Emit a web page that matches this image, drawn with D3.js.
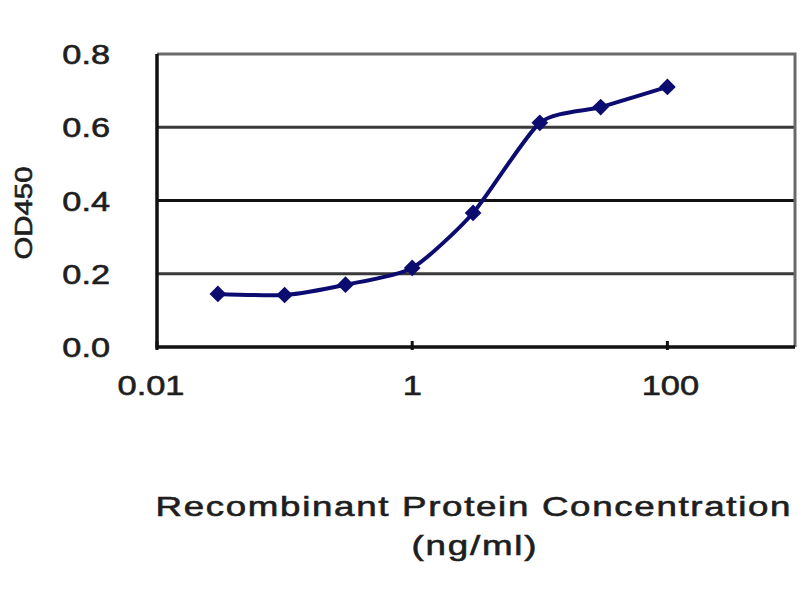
<!DOCTYPE html>
<html>
<head>
<meta charset="utf-8">
<script src="https://cdn.jsdelivr.net/npm/d3@7"></script>
<style>
  body { margin: 0; background: #ffffff; }
  text { font-family: "Liberation Sans", Arial, sans-serif; fill: #1e1e1e; stroke: #1e1e1e; stroke-width: 0.6px; }
</style>
</head>
<body>
<div id="chart"></div>
<script>
const concentrations = [0.03, 0.1, 0.3, 1, 3, 10, 30, 100];
const od450 = [0.145, 0.142, 0.170, 0.216, 0.366, 0.612, 0.655, 0.710];
const xTickValues = [0.01, 1, 100];
const xTickLabels = ["0.01", "1", "100"];
const yTickValues = [0, 0.2, 0.4, 0.6, 0.8];
const yTickLabels = ["0.0", "0.2", "0.4", "0.6", "0.8"];

const svg = d3.select("#chart")
    .append("svg")
    .attr("width", 800)
    .attr("height", 600);

const x = d3.scaleLog()
    .domain([0.01, 1000])
    .range([157, 795]);

const y = d3.scaleLinear()
    .domain([0, 0.8])
    .range([347, 54]);

// grid lines
svg.append("g")
    .selectAll("line")
    .data(yTickValues.slice(1, 4))
    .enter()
    .append("line")
    .attr("x1", x(0.01))
    .attr("x2", x(1000))
    .attr("y1", d => y(d))
    .attr("y2", d => y(d))
    .attr("stroke", (d, i) => i == 1 ? "#111" : "#3a3a3a")
    .attr("stroke-width", 3);

// top and right frame
svg.append("path")
    .attr("d", `M${x(0.01)},${y(0.8)}H${x(1000)}V${y(0)}`)
    .attr("fill", "none")
    .attr("stroke", "#6a6a6a")
    .attr("stroke-width", 3);

// x ticks
svg.append("g")
    .selectAll("line")
    .data(xTickValues)
    .enter()
    .append("line")
    .attr("x1", d => x(d))
    .attr("x2", d => x(d))
    .attr("y1", y(0) - 6)
    .attr("y2", y(0) + 3)
    .attr("stroke", "#111")
    .attr("stroke-width", 3);

// left and bottom axis lines
svg.append("path")
    .attr("d", `M${x(0.01)},${y(0.8)}V${y(0)}H${x(1000)}`)
    .attr("fill", "none")
    .attr("stroke", "#111")
    .attr("stroke-width", 3.5);

// y tick labels
svg.append("g")
    .selectAll("text")
    .data(yTickValues)
    .enter()
    .append("text")
    .attr("transform", d => `translate(110,${y(d) + 10}) scale(1.27,1)`)
    .attr("text-anchor", "end")
    .attr("font-size", 27)
    .text((d, i) => yTickLabels[i]);

// x tick labels
svg.append("g")
    .selectAll("text")
    .data(xTickValues)
    .enter()
    .append("text")
    .attr("transform", d => `translate(${x(d) - (d == 0.01 ? 6 : 0) + (d == 100 ? 3 : 0)},395) scale(1.23,1)`)
    .attr("text-anchor", "middle")
    .attr("font-size", 28)
    .text((d, i) => xTickLabels[i]);

// axis titles
svg.append("text")
    .attr("transform", "translate(473,516) scale(1.36,1)")
    .attr("text-anchor", "middle")
    .attr("font-size", 27)
    .attr("textLength", 467)
    .attr("lengthAdjust", "spacing")
    .text("Recombinant Protein Concentration");

svg.append("text")
    .attr("transform", "translate(474,555) scale(1.36,1)")
    .attr("text-anchor", "middle")
    .attr("font-size", 27)
    .attr("textLength", 92)
    .attr("lengthAdjust", "spacing")
    .text("(ng/ml)");

svg.append("text")
    .attr("transform", "translate(32,213) rotate(-90)")
    .attr("text-anchor", "middle")
    .attr("font-size", 24)
    .attr("textLength", 93)
    .attr("lengthAdjust", "spacingAndGlyphs")
    .text("OD450");

// series
const points = concentrations.map((c, i) => [c, od450[i]]);

const line = d3.line()
    .x(d => x(d[0]))
    .y(d => y(d[1]))
    .curve(d3.curveCardinal.tension(0.35));

svg.append("path")
    .datum(points)
    .attr("d", line)
    .attr("fill", "none")
    .attr("stroke", "#0c0c70")
    .attr("stroke-width", 4);

svg.append("g")
    .selectAll("path")
    .data(points)
    .enter()
    .append("path")
    .attr("d", d3.symbol().type(d3.symbolSquare).size(140))
    .attr("transform", d => `translate(${x(d[0])},${y(d[1])}) rotate(45)`)
    .attr("fill", "#0c0c70");
</script>
</body>
</html>
